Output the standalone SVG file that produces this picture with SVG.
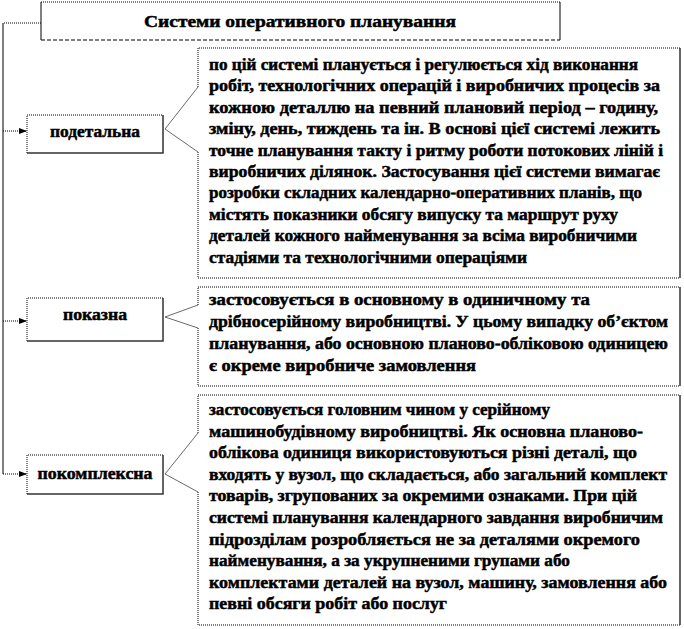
<svg xmlns="http://www.w3.org/2000/svg" width="684" height="629" viewBox="0 0 684 629">
<defs>
<style>
.t{font-family:"Liberation Serif","Times New Roman",serif;font-weight:bold;font-size:17.5px;fill:#000;stroke:#000;stroke-width:0.5}
.c{text-anchor:middle}
.dot{fill:none;stroke:#000;stroke-width:1;stroke-dasharray:1 1}
.dash{fill:none;stroke:#000;stroke-width:1;stroke-dasharray:4 2}
.sol{fill:none;stroke:#000;stroke-width:1}
.sh{fill:none;stroke:#333;stroke-width:1.5}
.ptr{fill:none;stroke:#444;stroke-width:0.8}
.bg{fill:#fff;stroke:none}
</style>
<marker id="ah" viewBox="0 0 8 8" refX="8" refY="4" markerWidth="8" markerHeight="8" markerUnits="userSpaceOnUse" orient="auto">
<path d="M0,1 L8,4 L0,7 Z" fill="#000"/>
</marker>
</defs>
<rect width="684" height="629" fill="#fff"/>

<g id="connectors">
<path class="sol" d="M3,23 V474"/>
<path class="dot" d="M41,23 H3"/>
<path class="dot" d="M3,131 H27" marker-end="url(#ah)"/>
<path class="dot" d="M3,321 H27" marker-end="url(#ah)"/>
<path class="dot" d="M3,474 H27" marker-end="url(#ah)"/>
</g>

<g id="title">
<rect class="bg" x="41" y="2" width="519" height="38"/>
<path class="dot" d="M41,2 H560"/>
<path class="sol" d="M41,2 V40"/>
<path class="sol" d="M560,2 V40"/>
<path class="dash" d="M41,40 H560"/>
<text class="t c" x="300" y="27" textLength="312" lengthAdjust="spacingAndGlyphs">Системи оперативного планування</text>
</g>

<g id="node-podetalna">
<rect class="bg" x="27" y="115" width="136" height="38"/>
<path class="dot" d="M27,153 V115 H163"/>
<path class="sh" d="M163,115 V153 H27"/>
<text class="t c" x="95" y="137" textLength="90" lengthAdjust="spacingAndGlyphs">подетальна</text>
</g>

<g id="node-pokazna">
<rect class="bg" x="27" y="298" width="136" height="43"/>
<path class="dot" d="M27,341 V298 H163"/>
<path class="sh" d="M163,298 V341 H27"/>
<text class="t c" x="95" y="320" textLength="64" lengthAdjust="spacingAndGlyphs">показна</text>
</g>

<g id="node-pokompleksna">
<rect class="bg" x="27" y="455" width="136" height="39"/>
<path class="dot" d="M27,494 V455 H163"/>
<path class="sh" d="M163,455 V494 H27"/>
<text class="t c" x="95" y="479" textLength="115" lengthAdjust="spacingAndGlyphs">покомплексна</text>
</g>

<g id="callout-1">
<path class="bg" d="M198,48 H680 V278 H198 V152 L165,129 L198,87 Z"/>
<path class="dot" d="M198,87 V48 H680"/>
<path class="dot" d="M198,152 V278 H680"/>
<path class="sh" d="M680,48 V278"/>
<path class="ptr" d="M198,87 L165,129 L198,152"/>
<text class="t" x="209" y="70" textLength="429" lengthAdjust="spacingAndGlyphs">по цій системі планується і регулюється хід виконання</text>
<text class="t" x="209" y="91.4" textLength="451" lengthAdjust="spacingAndGlyphs">робіт, технологічних операцій і виробничих процесів за</text>
<text class="t" x="209" y="112.8" textLength="449" lengthAdjust="spacingAndGlyphs">кожною деталлю на певний плановий період – годину,</text>
<text class="t" x="209" y="134.2" textLength="451" lengthAdjust="spacingAndGlyphs">зміну, день, тиждень та ін. В основі цієї системі лежить</text>
<text class="t" x="209" y="155.6" textLength="454" lengthAdjust="spacingAndGlyphs">точне планування такту і ритму роботи потокових ліній і</text>
<text class="t" x="209" y="177" textLength="451" lengthAdjust="spacingAndGlyphs">виробничих ділянок. Застосування цієї системи вимагає</text>
<text class="t" x="209" y="198.4" textLength="433" lengthAdjust="spacingAndGlyphs">розробки складних календарно-оперативних планів, що</text>
<text class="t" x="209" y="219.8" textLength="409" lengthAdjust="spacingAndGlyphs">містять показники обсягу випуску та маршрут руху</text>
<text class="t" x="209" y="241.2" textLength="428" lengthAdjust="spacingAndGlyphs">деталей кожного найменування за всіма виробничими</text>
<text class="t" x="209" y="262.6" textLength="318" lengthAdjust="spacingAndGlyphs">стадіями та технологічними операціями</text>
</g>

<g id="callout-2">
<path class="bg" d="M198,287 H680 V386 H198 V328 L165,317 L198,305 Z"/>
<path class="dot" d="M198,305 V287 H680"/>
<path class="dot" d="M198,328 V386 H680"/>
<path class="sh" d="M680,287 V386"/>
<path class="ptr" d="M198,305 L165,317 L198,328"/>
<text class="t" x="209" y="305" textLength="381" lengthAdjust="spacingAndGlyphs">застосовується в основному в одиничному та</text>
<text class="t" x="209" y="327" textLength="459" lengthAdjust="spacingAndGlyphs">дрібносерійному виробництві. У цьому випадку об’єктом</text>
<text class="t" x="209" y="349" textLength="459" lengthAdjust="spacingAndGlyphs">планування, або основною планово-обліковою одиницею</text>
<text class="t" x="209" y="371" textLength="267" lengthAdjust="spacingAndGlyphs">є окреме виробниче замовлення</text>
</g>

<g id="callout-3">
<path class="bg" d="M198,395 H680 V625 H198 V492 L165,474 L198,433 Z"/>
<path class="dot" d="M198,433 V395 H680"/>
<path class="dot" d="M198,492 V625 H680"/>
<path class="sh" d="M680,395 V625"/>
<path class="ptr" d="M198,433 L165,474 L198,492"/>
<text class="t" x="209" y="415" textLength="341" lengthAdjust="spacingAndGlyphs">застосовується головним чином у серійному</text>
<text class="t" x="209" y="436.6" textLength="434" lengthAdjust="spacingAndGlyphs">машинобудівному виробництві. Як основна планово-</text>
<text class="t" x="209" y="458.2" textLength="428" lengthAdjust="spacingAndGlyphs">облікова одиниця використовуються різні деталі, що</text>
<text class="t" x="209" y="479.8" textLength="458" lengthAdjust="spacingAndGlyphs">входять у вузол, що складається, або загальний комплект</text>
<text class="t" x="209" y="501.4" textLength="428" lengthAdjust="spacingAndGlyphs">товарів, згрупованих за окремими ознаками. При цій</text>
<text class="t" x="209" y="523" textLength="454" lengthAdjust="spacingAndGlyphs">системі планування календарного завдання виробничим</text>
<text class="t" x="209" y="544.6" textLength="431" lengthAdjust="spacingAndGlyphs">підрозділам розробляється не за деталями окремого</text>
<text class="t" x="209" y="566.2" textLength="361" lengthAdjust="spacingAndGlyphs">найменування, а за укрупненими групами або</text>
<text class="t" x="209" y="587.8" textLength="458" lengthAdjust="spacingAndGlyphs">комплектами деталей на вузол, машину, замовлення або</text>
<text class="t" x="209" y="609.4" textLength="238" lengthAdjust="spacingAndGlyphs">певні обсяги робіт або послуг</text>
</g>
</svg>
